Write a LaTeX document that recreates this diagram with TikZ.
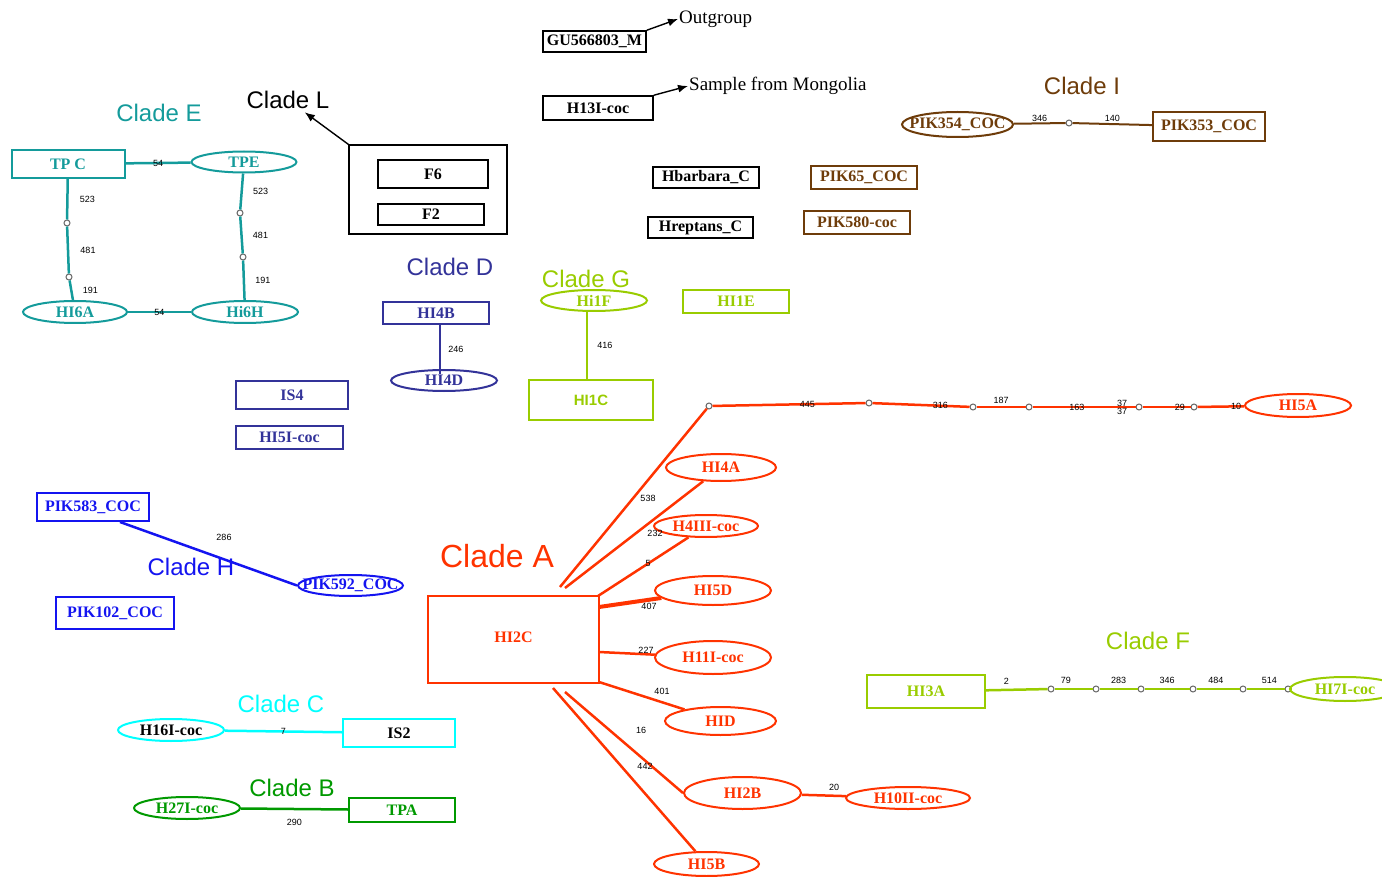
\documentclass[tikz,border=0pt]{standalone}
\usepackage{fontspec}
\setmainfont{Liberation Serif}
\setsansfont{Liberation Sans}
\usetikzlibrary{shapes.geometric,positioning,arrows.meta}
\definecolor{cE}{RGB}{20,155,155}
\definecolor{cD}{RGB}{51,51,153}
\definecolor{cG}{RGB}{153,204,0}
\definecolor{cA}{RGB}{255,51,0}
\definecolor{cH}{RGB}{20,20,240}
\definecolor{cC}{RGB}{0,255,255}
\definecolor{cB}{RGB}{0,153,0}
\definecolor{cI}{RGB}{110,60,10}
\newcommand{\otxt}[1]{\makebox[0pt]{#1}}
\begin{document}
\begin{tikzpicture}[x=1pt,y=-1pt,
    box/.style={draw,rectangle,line width=2pt,inner sep=0pt,font=\bfseries\fontsize{16}{16}\selectfont},
    oval/.style={draw,ellipse,line width=2pt,inner sep=0pt,font=\bfseries\fontsize{16}{16}\selectfont},
    sz/.style 2 args={minimum width=#1,minimum height=#2},
    clade/.style={font=\sffamily\fontsize{24}{24}\selectfont},
    note/.style={font=\fontsize{19}{19}\selectfont,anchor=west,inner sep=1pt},
    num/.style={font=\sffamily\fontsize{9}{9}\selectfont,inner sep=1pt,text=black},
    vtx/.style={circle,draw=gray!80!black,fill=white,line width=1pt,inner sep=0pt,minimum size=6pt},
    ln/.style={line width=2.5pt},
    arr/.style={-{Latex[length=10pt,width=8pt]},line width=1.4pt}]
\useasboundingbox (0,0) rectangle (1382,877);

\node[clade,cE] (cladeE) at (159,113) {Clade E};
\node[box,sz={113}{28},cE] (tpc) at (68,164) {TP C};
\node[oval,sz={105}{21},cE] (tpe) at (244,162) {\otxt{TPE}};
\node[oval,sz={104}{22},cE] (hi6a) at (75,312) {\otxt{HI6A}};
\node[oval,sz={106}{22},cE] (hi6h) at (245,312) {\otxt{Hi6H}};
\foreach \n/\x/\y in {e1/67/223,e2/69/277,e3/240/213,e4/243/257} \node[vtx] (\n) at (\x,\y) {};
\path[ln,cE] (tpc) edge node[num]{54} (tpe) (hi6a) edge node[num]{54} (hi6h)
    (tpc) edge node[num,xshift=20]{523} (e1) (e1) edge node[num,xshift=20]{481} (e2) (e2) edge node[num,xshift=19]{191} (hi6a)
    (tpe) edge node[num,xshift=19]{523} (e3) (e3) edge node[num,xshift=19]{481} (e4) (e4) edge node[num,xshift=19]{191} (hi6h);

\node[clade] (cladeL) at (288,100) {Clade L};
\node[draw,line width=1.2pt,sz={158}{89}] (lbox) at (428,189.5) {};
\node[box,line width=1.5pt,sz={110}{28}] (fsix) at (433,174) {F6};
\node[box,line width=1.5pt,sz={106}{21}] (ftwo) at (431,214.5) {F2};
\draw[arr] (lbox.north west) -- (cladeL);

\node[box,line width=1.5pt,sz={103}{21}] (gu) at (594.5,41.5) {GU566803\_M};
\node[note] (og) at (678,19) {Outgroup};
\draw[arr] (gu.north east) -- (og.west);
\node[box,line width=1.5pt,sz={110}{24}] (h13) at (598,108) {H13I-coc};
\node[note] (smp) at (688,86) {Sample from Mongolia};
\draw[arr] (h13.north east) -- (smp.west);

\node[box,line width=1.5pt,sz={106}{21}] (hbar) at (706,177.5) {Hbarbara\_C};
\node[box,line width=1.5pt,sz={105}{21}] (hrep) at (700.5,227.5) {Hreptans\_C};
\node[box,sz={106}{23},cI] (pik65) at (864,177.5) {PIK65\_COC};
\node[box,sz={106}{23},cI] (pik580) at (857,222.5) {PIK580-coc};

\node[clade,cI] (cladeI) at (1082,86) {Clade I};
\node[oval,sz={111}{25},cI] (pik354) at (957.5,124.5) {\otxt{PIK354\_COC}};
\node[vtx] (i1) at (1069,123) {};
\node[box,sz={112}{29},cI] (pik353) at (1209,126.5) {PIK353\_COC};
\path[line width=2pt,cI] (pik354) edge node[num,above]{346} (i1) (i1) edge node[num,above]{140} (pik353);

\node[clade,cD] (cladeD) at (450,267) {Clade D};
\node[box,sz={106}{22},cD] (hi4b) at (436,313) {HI4B};
\node[oval,sz={106}{21},cD] (hi4d) at (444,380.5) {\otxt{HI4D}};
\path[ln,cD] ([xshift=4]hi4b.south) edge node[num,right=6pt]{246} ([xshift=-4,yshift=-5]hi4d.north);
\node[box,sz={112}{28},cD] (is4) at (292,395) {IS4};
\node[box,sz={107}{23},cD] (hi5i) at (289.5,437.5) {HI5I-coc};

\node[clade,cG] (cladeG) at (586,279) {Clade G};
\node[oval,sz={106}{21},cG] (hi1f) at (594,300.5) {\otxt{Hi1F}};
\node[box,sz={124}{40},cG,font=\sffamily\bfseries\fontsize{15}{15}\selectfont] (hi1c) at (591,400) {HI1C};
\node[box,sz={106}{23},cG] (hi1e) at (736,301.5) {HI1E};
\path[ln,cG] ([xshift=-7]hi1f.south) edge node[num,right=8pt]{416} ([xshift=-4]hi1c.north);

\node[clade,cA,font=\sffamily\fontsize{32}{32}\selectfont] (cladeA) at (497,556) {Clade A};
\node[box,sz={171}{87},cA] (hi2c) at (513.5,639.5) {\raisebox{5pt}{HI2C}\hspace{18pt}};
\node[oval,sz={110}{27},cA] (hi4a) at (721,467.5) {\otxt{HI4A}};
\node[oval,sz={104}{22},cA] (h4iii) at (706,526) {\otxt{H4III-coc}};
\node[oval,sz={116}{29},cA] (hi5d) at (713,590.5) {\otxt{HI5D}};
\node[oval,sz={116}{33},cA] (h11i) at (713,657.5) {\otxt{H11I-coc}};
\node[oval,sz={111}{28},cA] (hid) at (720.5,721) {\otxt{HID}};
\node[oval,sz={117}{32},cA] (hi2b) at (742.5,793) {\otxt{HI2B}};
\node[oval,sz={124}{22},cA] (h10ii) at (908,798) {\otxt{H10II-coc}};
\node[oval,sz={105}{24},cA] (hi5b) at (706.5,864) {\otxt{HI5B}};
\node[oval,sz={106}{23},cA] (hi5a) at (1298,405.5) {\otxt{HI5A}};
\foreach \x/\y [count=\j] in {709/406,869/403,973/407,1029/407,1139/407,1194/407} \node[vtx] (r\j) at (\x,\y) {};
\foreach \n/\x/\y in {s1/560/587,s2/565/588,s3/598/596,s4/599/607,s5/599/652,s6/599/682,s7/565/692,s8/553/688} \coordinate (\n) at (\x,\y);
\path[ln,cA] (s1) edge (r1) (r1) edge node[num,pos=.62]{445} (r2) (r2) edge node[num,pos=.7]{316} (r3)
    (r3) edge node[num,above=1pt]{187} (r4) (r4) edge node[num,pos=.43]{163} node[num,pos=.87,yshift=4]{37} node[num,pos=.87,yshift=-4]{37} (r5)
    (r5) edge node[num,pos=.78]{29} (r6) (r6) edge node[num,pos=.83]{10} (hi5a);
\path[ln,cA] (s2) edge (hi4a) (648,498) node[num]{538}
    (s3) edge (h4iii) (655,533) node[num]{232} (648,563) node[num]{5}
    (s4) edge[line width=4pt] (hi5d) (649,606) node[num]{407}
    (s5) edge (h11i) (646,650) node[num]{227}
    (s6) edge (hid) (662,691) node[num]{401}
    (s7) edge (hi2b.west) (641,730) node[num]{16} (645,766) node[num]{442}
    (s8) edge (hi5b)
    (hi2b) edge (h10ii) (834,787) node[num]{20};

\node[clade,cH] (cladeH) at (191,567) {Clade H};
\node[box,sz={112}{28},cH] (pik583) at (93,507) {PIK583\_COC};
\node[oval,sz={105}{21},cH] (pik592) at (350.5,585.5) {\otxt{PIK592\_COC}};
\node[box,sz={118}{32},cH] (pik102) at (115,613) {PIK102\_COC};
\path[ln,cH] ([xshift=27]pik583.south) edge (pik592.west) (224,537) node[num]{286};

\node[clade,cC] (cladeC) at (281,704) {Clade C};
\node[oval,sz={106}{22},cC,text=black] (h16i) at (171,730) {\otxt{H16I-coc}};
\node[box,sz={112}{28},cC,text=black] (is2) at (399,733) {IS2};
\path[ln,cC] (h16i) edge node[num]{7} (is2);

\node[clade,cB] (cladeB) at (292,788) {Clade B};
\node[oval,sz={106}{22},cB] (h27i) at (187,808) {\otxt{H27I-coc}};
\node[box,sz={106}{24},cB] (tpa) at (402,810) {TPA};
\path[ln,cB] (h27i) edge node[num,below=8pt]{290} (tpa);

\node[clade,cG] (cladeF) at (1148,641) {Clade F};
\node[box,sz={118}{33},cG] (hi3a) at (926,691.5) {HI3A};
\foreach \x [count=\j] in {1051,1096,1141,1193,1243,1288} \node[vtx] (q\j) at (\x,689) {};
\node[oval,sz={110}{24},cG] (hi7i) at (1345,689) {\otxt{HI7I-coc}};
\foreach \a/\b/\l/\p in {hi3a/q1/2/.33,q1/q2/79/.3,q2/q3/283/.5,q3/q4/346/.5,q4/q5/484/.45,q5/q6/514/.6}
    \path[ln,cG] (\a) edge node[num,above=3pt,pos=\p]{\l} (\b);
\path[ln,cG] (q6) edge (hi7i);
\end{tikzpicture}
\end{document}
